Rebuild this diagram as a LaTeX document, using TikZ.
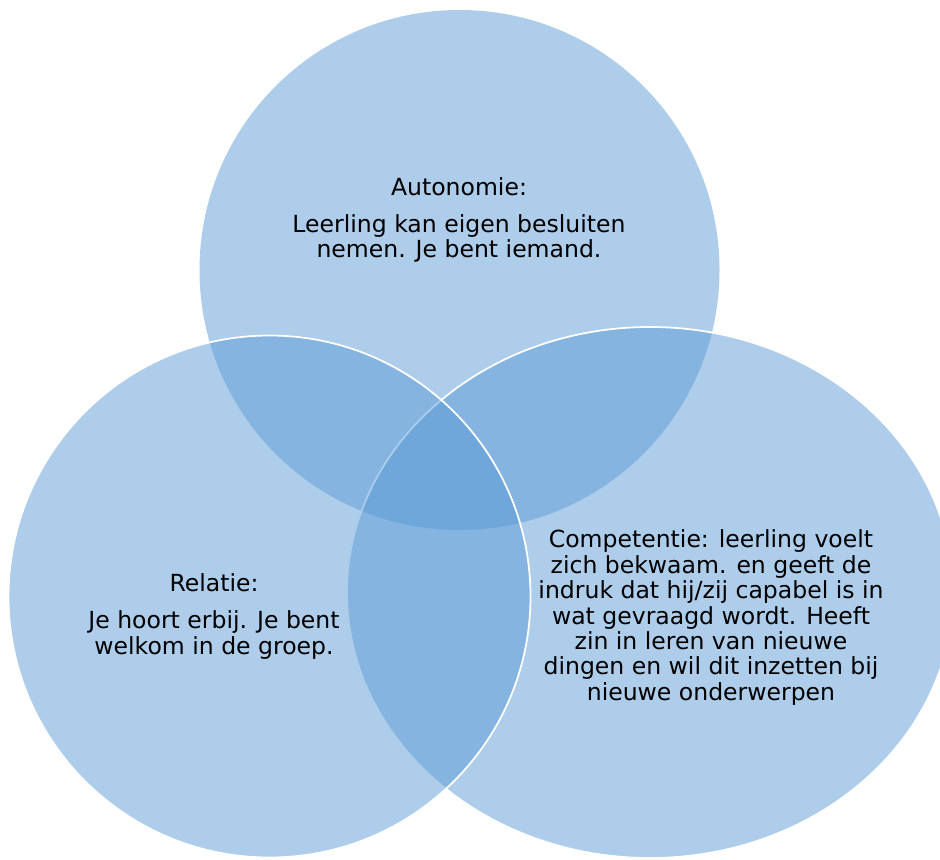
\documentclass[tikz,border=0pt]{standalone}
\usepackage{xcolor}
\usepackage{fontspec}
\setmainfont{DejaVu Sans}
\usepackage{tikz}
\usetikzlibrary{positioning}

\definecolor{vennblue}{HTML}{5B9BD5}

\begin{document}
\begin{tikzpicture}[x=0.02cm, y=-0.02cm, font=\fontsize{13.4}{14.5}\selectfont]
            \useasboundingbox (0,0) rectangle (940,859);
            \fill[vennblue, fill opacity=0.5] (459.5,270) circle (260);
            \draw[white, line width=1pt, fill=vennblue, fill opacity=0.5] (650,592.5) ellipse (303 and 265.5);
            \draw[white, line width=1pt, fill=vennblue, fill opacity=0.5] (269.5,596.5) circle (261);
            \node[align=center, inner sep=0] (auto) at (459,220) {Autonomie:\\[6.5pt]Leerling kan eigen besluiten\\nemen. Je bent iemand.};
            \node[align=center, inner sep=0] (rel) at (214,616.5) {Relatie:\\[6.5pt]Je hoort erbij. Je bent\\welkom in de groep.};
            \node[align=center, inner sep=0] (comp) at (711,617.5) {Competentie: leerling voelt\\zich bekwaam. en geeft de\\indruk dat hij/zij capabel is in\\wat gevraagd wordt. Heeft\\zin in leren van nieuwe\\dingen en wil dit inzetten bij\\nieuwe onderwerpen};
        \end{tikzpicture}
\end{document}
